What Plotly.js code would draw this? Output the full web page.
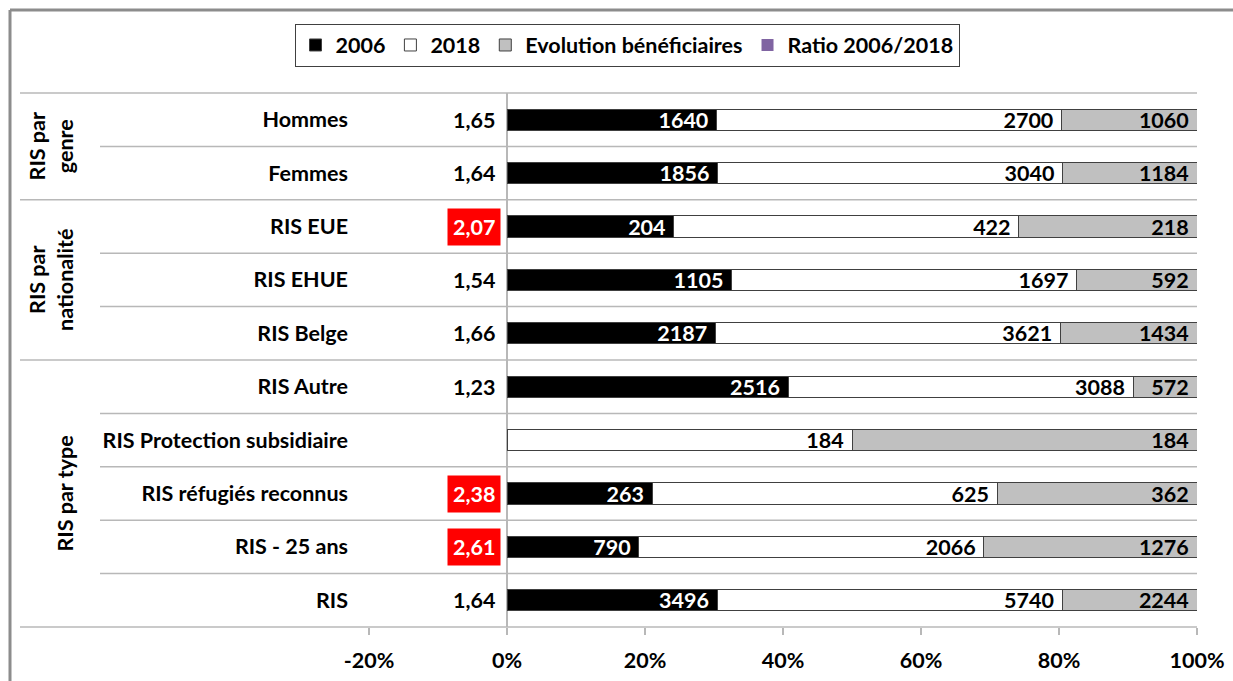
<!DOCTYPE html>
<html>
<head>
<meta charset="utf-8">
<script src="https://cdn.plot.ly/plotly-3.0.1.min.js"></script>
<style>
  html, body { margin: 0; padding: 0; background: #fff; }
  #chart { width: 1233px; height: 681px; }
</style>
</head>
<body>
<div id="chart"></div>
<script>
// ---- data ----
const categories = ['Hommes', 'Femmes', 'RIS EUE', 'RIS EHUE', 'RIS Belge', 'RIS Autre',
  'RIS Protection subsidiaire', 'RIS réfugiés reconnus', 'RIS - 25 ans', 'RIS'];
const values2006 = [1640, 1856, 204, 1105, 2187, 2516, null, 263, 790, 3496];
const values2018 = [2700, 3040, 422, 1697, 3621, 3088, 184, 625, 2066, 5740];
const evolution = [1060, 1184, 218, 592, 1434, 572, 184, 362, 1276, 2244];
const ratioLabels = ['1,65', '1,64', '2,07', '1,54', '1,66', '1,23', '', '2,38', '2,61', '1,64'];
const groupNames = ['RIS par<br>genre', 'RIS par<br>nationalité', 'RIS par type'];
const groupSizes = [2, 3, 5];
const tickValues = [-0.2, 0, 0.2, 0.4, 0.6, 0.8, 1];
const tickLabels = ['-20%', '0%', '20%', '40%', '60%', '80%', '100%'];
const seriesNames = ['2006', '2018', 'Evolution bénéficiaires', 'Ratio 2006/2018'];

// ---- geometry helpers (layout only) ----
const W = 1233, H = 681;
const L = 355, R = 1197, T = 93, B = 627;
const px = p => (p - L) / (R - L);
const py = p => (B - p) / (B - T);
const FONT = "Lato, 'Open Sans', sans-serif";
const FS = 21.5;
const edge = '#404040';
const gridCol = '#b8b8b8';

const txt = arr => arr.map(v => (v === null ? '' : String(v) + '\u00a0'));

const traces = [
  {
    type: 'bar', orientation: 'h', name: seriesNames[0],
    y: categories, x: values2006, text: txt(values2006),
    marker: { color: '#000000', line: { color: edge, width: 1 } },
    textposition: 'inside', insidetextanchor: 'end', constraintext: 'none', textangle: 0,
    insidetextfont: { color: '#ffffff', size: FS, family: FONT, weight: 'bold' },
    hoverinfo: 'skip'
  },
  {
    type: 'bar', orientation: 'h', name: seriesNames[1],
    y: categories, x: values2018, text: txt(values2018),
    marker: { color: '#ffffff', line: { color: edge, width: 1 } },
    textposition: 'inside', insidetextanchor: 'end', constraintext: 'none', textangle: 0,
    insidetextfont: { color: '#000000', size: FS, family: FONT, weight: 'bold' },
    hoverinfo: 'skip'
  },
  {
    type: 'bar', orientation: 'h', name: seriesNames[2],
    y: categories, x: evolution, text: txt(evolution),
    marker: { color: '#c0c0c0', line: { color: edge, width: 1 } },
    textposition: 'inside', insidetextanchor: 'end', constraintext: 'none', textangle: 0,
    insidetextfont: { color: '#000000', size: FS, family: FONT, weight: 'bold' },
    hoverinfo: 'skip'
  },
  {
    type: 'bar', orientation: 'h', name: seriesNames[3],
    y: categories, x: categories.map(() => null),
    marker: { color: '#8064a2' },
    hoverinfo: 'skip'
  }
];

// ratio labels
const annotations = ratioLabels.map((lab, i) => {
  const hi = parseFloat(lab.replace(',', '.')) > 2;
  return {
    x: -0.009, y: categories[i], xref: 'x', yref: 'y',
    text: lab, showarrow: false, xanchor: 'right', yanchor: 'middle',
    font: { family: FONT, size: FS, weight: 'bold', color: hi ? '#ffffff' : '#000000' },
    bgcolor: hi ? '#ff0000' : 'rgba(0,0,0,0)', borderpad: 5
  };
});

// separators & group labels
const n = categories.length;
const shapes = [];
let start = 0;
const groupX = [px(51), px(51), px(64)];
groupSizes.forEach((size, g) => {
  shapes.push({ type: 'line', xref: 'paper', yref: 'paper', x0: px(20), x1: 1,
    y0: 1 - start / n, y1: 1 - start / n, line: { color: gridCol, width: 1.5 }, layer: 'below' });
  for (let k = 1; k < size; k++) {
    const yy = 1 - (start + k) / n;
    shapes.push({ type: 'line', xref: 'paper', yref: 'paper', x0: px(100), x1: 1,
      y0: yy, y1: yy, line: { color: gridCol, width: 1.5 }, layer: 'below' });
  }
  annotations.push({
    xref: 'paper', yref: 'paper', x: groupX[g], y: 1 - (start + size / 2) / n,
    text: groupNames[g], showarrow: false, textangle: -90,
    xanchor: 'center', yanchor: 'middle', align: 'center',
    font: { family: FONT, size: FS, weight: 'bold', color: '#000000' }
  });
  start += size;
});
shapes.push({ type: 'line', xref: 'paper', yref: 'paper', x0: px(20), x1: 1, y0: 0, y1: 0,
  line: { color: gridCol, width: 1.5 }, layer: 'below' });
shapes.push({ type: 'line', xref: 'paper', yref: 'paper', x0: px(10), x1: px(W + 5), y0: py(10), y1: py(10),
  line: { color: '#8c8c8c', width: 3 } });
shapes.push({ type: 'line', xref: 'paper', yref: 'paper', x0: px(10), x1: px(10), y0: py(10), y1: py(H + 5),
  line: { color: '#8c8c8c', width: 3 } });

const layout = {
  width: W, height: H,
  margin: { l: L, r: W - R, t: T, b: H - B, pad: 0 },
  paper_bgcolor: '#ffffff', plot_bgcolor: '#ffffff',
  font: { family: FONT, size: FS, color: '#000000', weight: 'bold' },
  barmode: 'stack', barnorm: 'fraction', bargap: 0.6,
  showlegend: true,
  legend: {
    orientation: 'h', xref: 'container', yref: 'container',
    x: 627 / W, xanchor: 'center', y: 1 - 45 / H, yanchor: 'middle',
    bordercolor: edge, borderwidth: 1, bgcolor: '#ffffff',
    font: { family: FONT, size: FS, weight: 'bold', color: '#000000' },
    traceorder: 'normal', itemclick: false
  },
  xaxis: {
    range: [-(507 - L) / 690, 1],
    tickvals: tickValues, ticktext: tickLabels,
    ticks: 'outside', ticklen: 7, tickwidth: 1.5, tickcolor: gridCol,
    showgrid: false, zeroline: true, zerolinecolor: gridCol, zerolinewidth: 1.5,
    showline: false, automargin: false, fixedrange: true, ticklabelstandoff: 7,
    tickfont: { family: FONT, size: FS, weight: 'bold', color: '#000000' }
  },
  yaxis: {
    type: 'category', categoryorder: 'array', categoryarray: categories,
    autorange: 'reversed', showgrid: false, zeroline: false, showline: false,
    ticks: '', automargin: false, fixedrange: true, ticklabelstandoff: 6,
    tickfont: { family: FONT, size: FS, weight: 'bold', color: '#000000' }
  },
  shapes: shapes,
  annotations: annotations
};

Plotly.newPlot('chart', traces, layout, { displayModeBar: false, staticPlot: true });
</script>
</body>
</html>
